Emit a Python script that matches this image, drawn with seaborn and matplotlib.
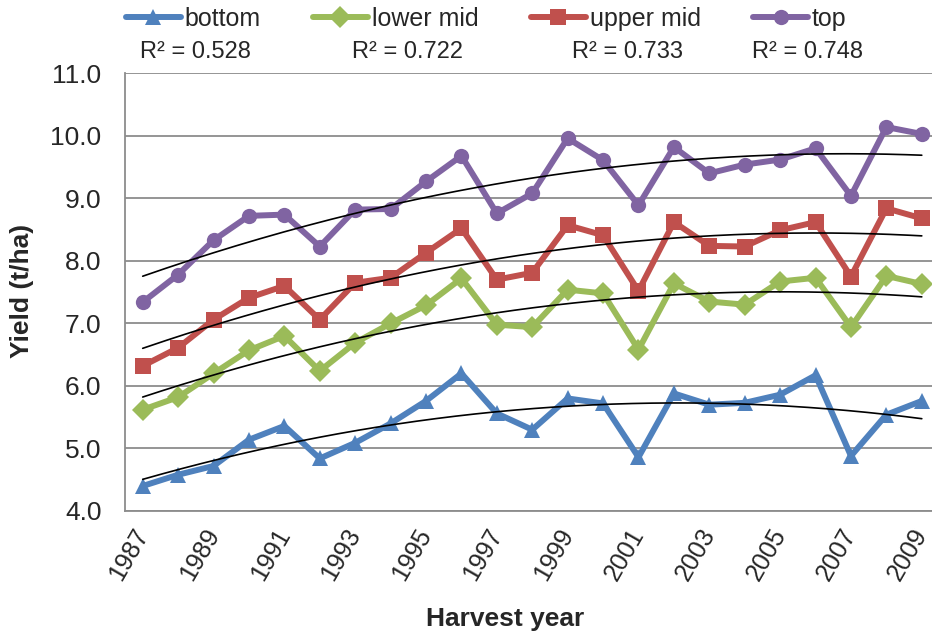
import numpy as np
import pandas as pd
import seaborn as sns
import matplotlib
matplotlib.use("Agg")
import matplotlib.pyplot as plt
import matplotlib.transforms as mtrans
from matplotlib.ticker import MultipleLocator, FixedLocator

years = list(range(1987, 2010))
bottom = [4.40, 4.58, 4.72, 5.14, 5.36, 4.84, 5.09, 5.40, 5.76, 6.20, 5.56,
          5.30, 5.80, 5.72, 4.86, 5.88, 5.70, 5.73, 5.86, 6.17, 4.88, 5.54, 5.76]
lower_mid = [5.62, 5.82, 6.20, 6.57, 6.80, 6.24, 6.69, 7.00, 7.29, 7.72, 6.98,
             6.94, 7.54, 7.48, 6.58, 7.64, 7.35, 7.30, 7.67, 7.73, 6.94, 7.76, 7.63]
upper_mid = [6.32, 6.61, 7.06, 7.41, 7.60, 7.06, 7.65, 7.73, 8.13, 8.52, 7.70,
             7.81, 8.57, 8.41, 7.52, 8.62, 8.24, 8.23, 8.49, 8.62, 7.75, 8.84, 8.68]
top = [7.34, 7.78, 8.33, 8.72, 8.74, 8.23, 8.82, 8.83, 9.27, 9.68, 8.76,
       9.08, 9.96, 9.61, 8.89, 9.82, 9.40, 9.54, 9.62, 9.80, 9.04, 10.14, 10.03]
series_names = ["bottom", "lower mid", "upper mid", "top"]
r2_labels = ["R² = 0.528", "R² = 0.722", "R² = 0.733", "R² = 0.748"]
tick_years = list(range(1987, 2010, 2))

colors = {"bottom": "#4F81BD", "lower mid": "#9BBB59",
          "upper mid": "#C0504D", "top": "#8064A2"}
markers = {"bottom": "^", "lower mid": "D", "upper mid": "s", "top": "o"}

df = pd.DataFrame({
    "year": years * 4,
    "yield": bottom + lower_mid + upper_mid + top,
    "group": [n for n in series_names for _ in years],
})

sns.set_style("white")
plt.rcParams["font.family"] = ["Liberation Sans", "DejaVu Sans"]

fig = plt.figure(figsize=(9.32, 6.37), dpi=100)
ax = fig.add_axes([125 / 932, 1 - 511 / 637, 814.5 / 932, 437.7 / 637])

sns.lineplot(data=df, x="year", y="yield", hue="group", style="group",
             palette=colors, markers=markers, dashes=False, linewidth=4.3,
             markersize=11, markeredgewidth=0, ax=ax, zorder=3)

# quadratic trend lines
for name, vals in zip(series_names, [bottom, lower_mid, upper_mid, top]):
    c = np.polyfit(years, vals, 2)
    xs = np.linspace(years[0], years[-1], 200)
    ax.plot(xs, np.polyval(c, xs), color="black", lw=1.2, zorder=4)

ax.set_xlim(1986.5, 2009.5)
ax.set_ylim(4.0, 11.0)
ax.yaxis.set_major_locator(MultipleLocator(1.0))
ax.set_yticklabels([f"{v:.1f}" for v in ax.get_yticks()], fontsize=19)
ax.xaxis.set_major_locator(FixedLocator(tick_years))
ax.set_xticklabels([str(y) for y in tick_years], fontsize=18, rotation=60,
                   ha="right", va="center", rotation_mode="anchor")
shift = mtrans.ScaledTranslation(7 / 72, 0, fig.dpi_scale_trans)
for lab in ax.get_xticklabels():
    lab.set_transform(lab.get_transform() + shift)
ax.xaxis.set_minor_locator(FixedLocator(np.arange(1986.5, 2010, 1.0)))
ax.tick_params(axis="x", which="major", length=0, pad=14)
ax.tick_params(axis="x", which="minor", length=6, width=1.2, color="#8c8c8c", direction="out")
ax.tick_params(axis="y", length=7, width=1.2, color="#8c8c8c", direction="out", pad=10)
ax.grid(axis="y", color="#8c8c8c", linewidth=1.3)
ax.set_axisbelow(True)
for s in ["top", "right"]:
    ax.spines[s].set_visible(False)
for s in ["left", "bottom"]:
    ax.spines[s].set_color("#8c8c8c")
    ax.spines[s].set_linewidth(1.3)

ax.set_xlabel("")
ax.set_ylabel("")
fig.text(505 / 932, 1 - 619 / 637, "Harvest year", fontsize=19, fontweight="bold",
         ha="center", va="center")
fig.text(22 / 932, 1 - 291 / 637, "Yield (t/ha)", fontsize=19, fontweight="bold",
         ha="center", va="center", rotation=90)

handles, labels = ax.get_legend_handles_labels()
ax.legend(handles, labels, loc="center", bbox_to_anchor=(486 / 932, 1 - 19 / 637),
          bbox_transform=fig.transFigure, ncol=4, frameon=False, fontsize=18,
          handlelength=2.2, handletextpad=0.15, columnspacing=2.1, borderaxespad=0)

for txt, xc in zip(r2_labels, [195, 407, 627, 808]):
    fig.text(xc / 932, 1 - 52 / 637, txt, fontsize=17, ha="center", va="center")

fig.savefig("out.png", dpi=100)
